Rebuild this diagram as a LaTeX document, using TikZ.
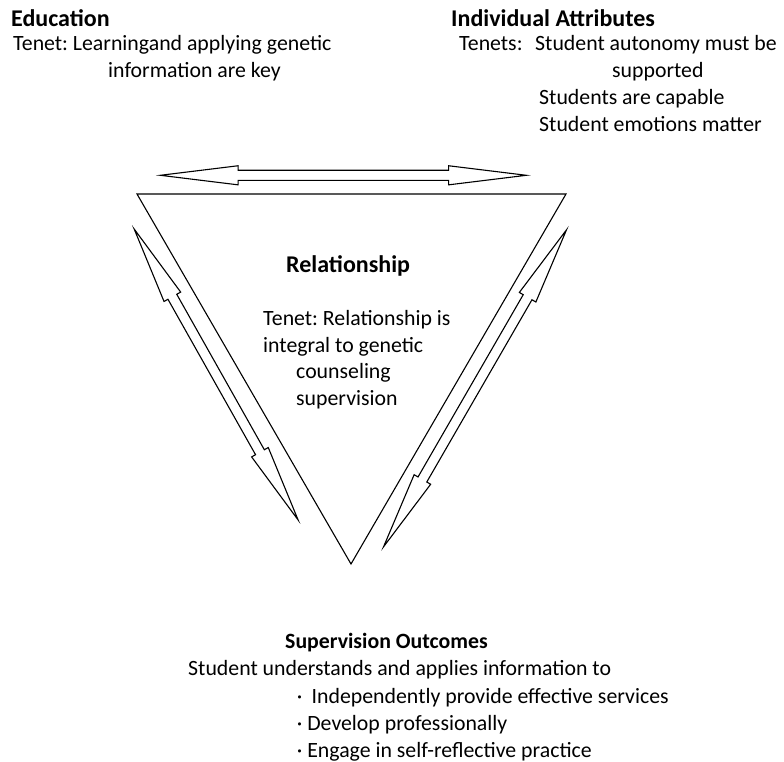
\documentclass[tikz,border=0pt]{standalone}
\usepackage{fontspec}
\setmainfont{Carlito}
\usetikzlibrary{shapes.arrows}
\frenchspacing

\tikzset{
  body/.style={anchor=base west, inner sep=0pt, font=\fontsize{21.8}{27}\selectfont},
  head/.style={body, font=\fontsize{24}{29}\selectfont\bfseries},
  subhead/.style={body, font=\fontsize{21.8}{27}\selectfont\bfseries},
  twoway/.style={double arrow, draw, line width=1.1pt, sloped,
    inner xsep=0pt, inner ysep=4.5pt,
    double arrow head extend=4.5pt, double arrow tip angle=14},
}

\begin{document}
\begin{tikzpicture}[x=1pt, y=-1pt]
    \useasboundingbox (0,0) rectangle (784,762);

    % Dreieck
    \coordinate (edu) at (137,194);
    \coordinate (ind) at (566,194);
    \coordinate (out) at (351,564);
    \draw[line width=1.1pt] (edu) -- (ind) -- (out) -- cycle;

    % Doppelpfeile entlang der Seiten
    \coordinate (topL) at (156.7,175.3);
    \coordinate (topR) at (530,175.3);
    \coordinate (leftU) at (132.3,225.7);
    \coordinate (leftD) at (300,523.3);
    \coordinate (rightU) at (568.3,226.7);
    \coordinate (rightD) at (381.7,550);
    \path (topL) -- node[twoway, minimum height=366pt] (arrTop) {} (topR);
    \path (leftU) -- node[twoway, minimum height=334pt] (arrLeft) {} (leftD);
    \path (rightU) -- node[twoway, minimum height=366pt] (arrRight) {} (rightD);

    % Education
    \node[head] (eduHead) at (11,27) {Education};
    \node[body] (eduTenet) at (13,51) {Tenet: Learningand applying genetic};
    \node[body] (eduTenetB) at (108,78) {information are key};

    % Individual Attributes
    \node[head] (indHead) at (451,27) {Individual Attributes};
    \node[body] (indTenets) at (459,51) {Tenets:};
    \node[body] (indAuto) at (535,51) {Student autonomy must be};
    \node[body] (indAutoB) at (612,78) {supported};
    \node[body] (indCapable) at (539,105) {Students are capable};
    \node[body] (indEmo) at (539,132) {Student emotions matter};

    % Relationship
    \node[head] (relHead) at (286,272) {Relationship};
    \node[body] (relTenet) at (263,325) {Tenet: Relationship is};
    \node[body] (relTenetB) at (263,352) {integral to genetic};
    \node[body] (relTenetC) at (296,378) {counseling};
    \node[body] (relTenetD) at (296,405) {supervision};

    % Supervision Outcomes
    \node[subhead] (outHead) at (285,648) {Supervision Outcomes};
    \node[body] (outText) at (188,675) {Student understands and applies information to};
    \node[body] (outA) at (296.7,703) {·\hspace{4.4pt} Independently provide effective services};
    \node[body] (outB) at (296.7,730) {· Develop professionally};
    \node[body] (outC) at (296.7,757) {· Engage in self-reflective practice};
\end{tikzpicture}
\end{document}
